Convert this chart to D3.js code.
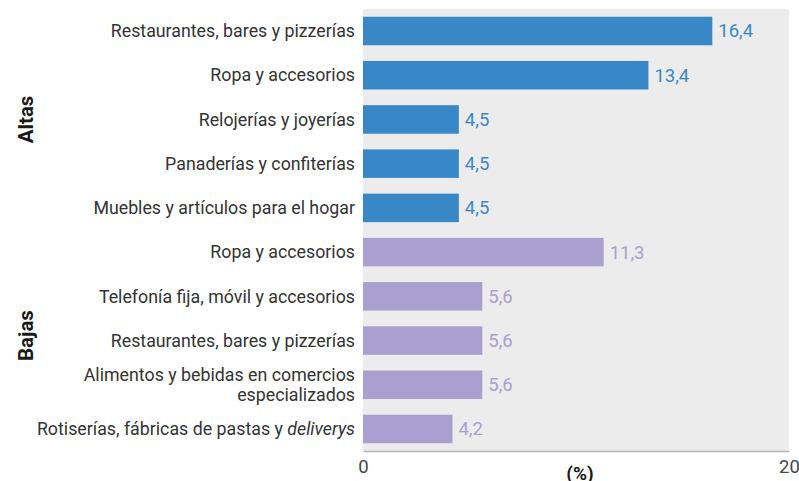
<!DOCTYPE html>
<html>
<head>
<meta charset="utf-8">
<script src="https://cdn.jsdelivr.net/npm/d3@7"></script>
<style>
body { margin: 0; background: #fff; }
svg text { font-family: "Roboto", sans-serif; }
.label { fill: #333; font-size: 17.8px; }
.value { font-size: 18.5px; }
.group { fill: #1a1a1a; font-size: 20.5px; font-weight: bold; }
.tick text { fill: #444; font-size: 18.5px; }
</style>
</head>
<body>
<div id="chart"></div>
<script>

var width = 799;
var height = 481;

// rows, top to bottom
var rubros = [
  "Restaurantes, bares y pizzerías",
  "Ropa y accesorios",
  "Relojerías y joyerías",
  "Panaderías y confiterías",
  "Muebles y artículos para el hogar",
  "Ropa y accesorios",
  "Telefonía fija, móvil y accesorios",
  "Restaurantes, bares y pizzerías",
  "Alimentos y bebidas en comercios|especializados",
  "Rotiserías, fábricas de pastas y *deliverys*"
];
var valores = [16.4, 13.4, 4.5, 4.5, 4.5, 11.3, 5.6, 5.6, 5.6, 4.2];
var grupos = ["Altas", "Altas", "Altas", "Altas", "Altas", "Bajas", "Bajas", "Bajas", "Bajas", "Bajas"];
var nombresGrupo = ["Altas", "Bajas"];
var xTicks = [0, 20];

var barColor = {"Altas": "#3888c8", "Bajas": "#a9a0d0"};
var textColor = {"Altas": "#3a88c8", "Bajas": "#a9a0d0"};

var plotLeft = 363, plotRight = 789, plotTop = 9, plotBottom = 451;

var svg = d3.select('#chart')
  .append('svg')
  .attr('width', width)
  .attr('height', height);

var x = d3.scaleLinear()
  .domain([0, 20])
  .range([plotLeft, plotRight]);

var y = d3.scaleBand()
  .domain(d3.range(rubros.length))
  .range([plotTop, plotBottom])
  .paddingInner(0.355)
  .paddingOuter(0.175);

// gray background
svg.append('rect')
  .attr('x', plotLeft)
  .attr('y', plotTop)
  .attr('width', plotRight - plotLeft)
  .attr('height', plotBottom - plotTop)
  .attr('fill', '#ececec');

var rows = d3.range(rubros.length);

svg.selectAll('.bar')
  .data(rows)
  .enter().append('rect')
  .attr('class', 'bar')
  .attr('x', x(0))
  .attr('y', function(i){ return y(i); })
  .attr('width', function(i){ return x(valores[i]) - x(0); })
  .attr('height', y.bandwidth())
  .attr('fill', function(i){ return barColor[grupos[i]]; });

// value labels
svg.selectAll('.value')
  .data(rows)
  .enter().append('text')
  .attr('class', 'value')
  .attr('x', function(i){ return x(valores[i]) + 6; })
  .attr('y', function(i){ return y(i) + y.bandwidth() / 2; })
  .attr('dy', '0.35em')
  .style('fill', function(i){ return textColor[grupos[i]]; })
  .text(function(i){ return d3.format('.1f')(valores[i]).replace('.', ','); });

// category labels (| = line break, *...* = italic)
var labels = svg.selectAll('.label')
  .data(rows)
  .enter().append('text')
  .attr('class', 'label')
  .attr('text-anchor', 'end')
  .attr('x', plotLeft - 8)
  .attr('y', function(i){ return y(i) + y.bandwidth() / 2; });

labels.each(function(i){
  var t = d3.select(this);
  var lines = rubros[i].split('|');
  lines.forEach(function(line, k){
    var dy = (k - (lines.length - 1) / 2) * 20;
    var tspanLine = t.append('tspan')
      .attr('x', plotLeft - 8)
      .attr('y', y(i) + y.bandwidth() / 2 + dy)
      .attr('dy', '0.35em');
    line.split('*').forEach(function(part, j){
      if (!part) return;
      tspanLine.append('tspan')
        .style('font-style', j % 2 ? 'italic' : 'normal')
        .text(part);
    });
  });
});

// group labels
nombresGrupo.forEach(function(g){
  var idx = rows.filter(function(i){ return grupos[i] == g; });
  var cy = (y(idx[0]) + y(idx[idx.length - 1]) + y.bandwidth()) / 2;
  if (g == "Bajas") cy -= 5;
  svg.append('text')
    .attr('class', 'group')
    .attr('text-anchor', 'middle')
    .attr('transform', 'translate(33,' + cy + ') rotate(-90)')
    .text(g);
});

// x axis
var xAxis = d3.axisBottom(x)
  .tickValues(xTicks)
  .tickSize(0)
  .tickPadding(9)
  .tickFormat(d3.format('d'));

var gx = svg.append('g')
  .attr('transform', 'translate(0,' + plotBottom + ')')
  .call(xAxis);
gx.select('.domain').attr('stroke', '#b5b5b5').attr('stroke-width', 1.5);
gx.selectAll('.tick text').attr('font-family', null);

svg.append('text')
  .attr('x', (plotLeft + plotRight) / 2 + 4)
  .attr('y', 480)
  .attr('text-anchor', 'middle')
  .style('font-weight', 'bold')
  .style('font-size', '19px')
  .style('fill', '#1a1a1a')
  .text('(%)');
</script>
</body>
</html>
